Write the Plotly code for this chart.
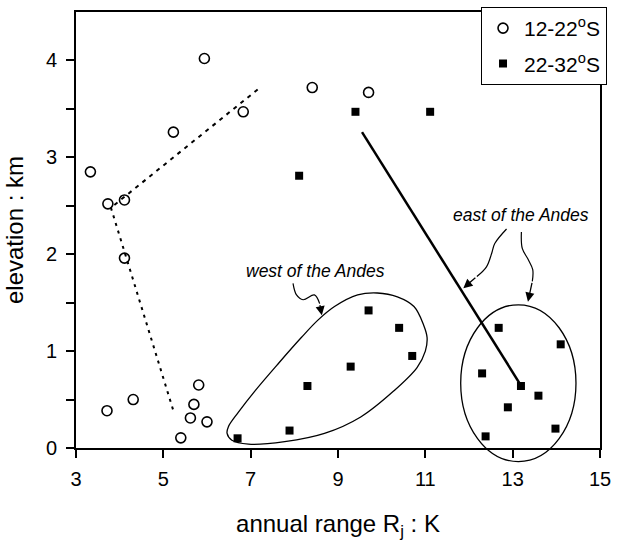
import plotly.graph_objects as go

# Stations 12-22°S: annual temperature range (K) and elevation (km)
north_range = [3.33, 3.73, 4.11, 4.11, 5.23, 5.94, 6.83, 8.41, 9.70,
               3.71, 4.31, 5.81, 5.70, 5.62, 6.00, 5.40]
north_elev = [2.85, 2.52, 2.56, 1.96, 3.26, 4.02, 3.47, 3.72, 3.67,
              0.385, 0.50, 0.65, 0.45, 0.31, 0.27, 0.105]

# Stations 22-32°S
south_range = [9.40, 11.11, 8.11, 6.70, 7.89, 8.30, 9.29, 9.70, 10.40, 10.70,
               12.68, 14.10, 12.30, 13.19, 13.59, 12.89, 13.98, 12.38]
south_elev = [3.47, 3.47, 2.81, 0.10, 0.18, 0.64, 0.84, 1.42, 1.24, 0.95,
              1.24, 1.07, 0.77, 0.64, 0.54, 0.42, 0.20, 0.12]

# Trend lines
dash_upper_x = [7.16, 3.80]
dash_upper_y = [3.70, 2.48]
dash_lower_x = [3.80, 5.24]
dash_lower_y = [2.48, 0.37]
solid_x = [9.55, 13.17]
solid_y = [3.26, 0.66]

# Outline around the western stations
west_x = [7.78, 8.69, 9.52, 10.28, 10.81, 11.00, 11.04, 10.96, 10.74, 10.36, 9.90,
          9.45, 8.92, 8.54, 8.16, 7.63, 7.10, 6.72, 6.49, 6.46, 6.57, 6.95, 7.78]
west_y = [0.065, 0.15, 0.32, 0.59, 0.83, 1.00, 1.14, 1.27, 1.46, 1.56, 1.60,
          1.58, 1.46, 1.32, 1.14, 0.87, 0.59, 0.37, 0.22, 0.15, 0.08, 0.04, 0.065]

# Ellipse around the eastern stations (x range, y range)
east_x = [11.81, 14.45]
east_y = [-0.14, 1.478]

# Curly pointer paths
west_ptr_x = [7.97, 8.05, 8.20, 8.46, 8.58]
west_ptr_y = [1.70, 1.58, 1.53, 1.58, 1.49]
west_tip = (8.63, 1.37)
eastA_ptr_x = [12.86, 12.59, 12.52, 12.40, 12.18]
eastA_ptr_y = [2.26, 2.11, 2.01, 1.87, 1.77]
eastA_tip = (11.87, 1.65)
eastB_ptr_x = [13.20, 13.22, 13.35, 13.46, 13.45]
eastB_ptr_y = [2.23, 2.06, 1.95, 1.84, 1.72]
eastB_tip = (13.35, 1.51)

X_RANGE = [3, 15]
Y_RANGE = [0, 4.5]
x_ticks = [3, 5, 7, 9, 11, 13, 15]
y_ticks = [0, 0.5, 1, 1.5, 2, 2.5, 3, 3.5, 4]
y_text = ["0", "", "1", "", "2", "", "3", "", "4"]

FONT = "Arial, Liberation Sans, sans-serif"
FS = 20

fig = go.Figure()

fig.add_trace(go.Scatter(x=dash_upper_x, y=dash_upper_y, mode="lines",
                         line=dict(color="black", width=2, dash="4px,5px"),
                         showlegend=False, hoverinfo="skip"))
fig.add_trace(go.Scatter(x=dash_lower_x, y=dash_lower_y, mode="lines",
                         line=dict(color="black", width=2, dash="3px,5px"),
                         showlegend=False, hoverinfo="skip"))
fig.add_trace(go.Scatter(x=solid_x, y=solid_y, mode="lines",
                         line=dict(color="black", width=2.5),
                         showlegend=False, hoverinfo="skip"))
fig.add_trace(go.Scatter(x=west_x, y=west_y, mode="lines",
                         line=dict(color="black", width=1.3, shape="spline", smoothing=1),
                         showlegend=False, hoverinfo="skip"))
for px, py in [(west_ptr_x, west_ptr_y), (eastA_ptr_x, eastA_ptr_y), (eastB_ptr_x, eastB_ptr_y)]:
    fig.add_trace(go.Scatter(x=px, y=py, mode="lines",
                             line=dict(color="black", width=1.2, shape="spline", smoothing=1),
                             showlegend=False, hoverinfo="skip"))

fig.add_trace(go.Scatter(x=north_range, y=north_elev, mode="markers",
                         name="12-22<sup>o</sup>S", legendgroup="north",
                         marker=dict(symbol="circle-open", size=10, color="black",
                                     line=dict(width=1.6, color="black"))))
fig.add_trace(go.Scatter(x=south_range, y=south_elev, mode="markers",
                         name="22-32<sup>o</sup>S", legendgroup="south",
                         marker=dict(symbol="square", size=8, color="black")))

# eastern ellipse: x in data units, y converted to the paper fraction of the y axis
span = Y_RANGE[1] - Y_RANGE[0]
fig.add_shape(type="circle", xref="x", yref="paper",
              x0=east_x[0], x1=east_x[1],
              y0=(east_y[0] - Y_RANGE[0]) / span, y1=(east_y[1] - Y_RANGE[0]) / span,
              line=dict(color="black", width=1.3))

# arrow heads at the end of each curly pointer
for px, py, tip in [(west_ptr_x, west_ptr_y, west_tip),
                    (eastA_ptr_x, eastA_ptr_y, eastA_tip),
                    (eastB_ptr_x, eastB_ptr_y, eastB_tip)]:
    fig.add_annotation(x=tip[0], y=tip[1], ax=px[-1], ay=py[-1],
                       axref="x", ayref="y", xref="x", yref="y",
                       text="", showarrow=True, arrowhead=2, arrowsize=1.4,
                       arrowwidth=1.3, arrowcolor="black")

fig.add_annotation(x=8.49, y=1.83, text="<i>west of the Andes</i>", showarrow=False,
                   font=dict(family=FONT, size=17.5, color="black"))
fig.add_annotation(x=13.20, y=2.40, text="<i>east of the Andes</i>", showarrow=False,
                   font=dict(family=FONT, size=17.5, color="black"))

fig.update_layout(
    width=618, height=541,
    margin=dict(l=76, r=14, t=7, b=93),
    paper_bgcolor="white", plot_bgcolor="white",
    font=dict(family=FONT, size=FS, color="black"),
    showlegend=True,
    legend=dict(x=1.013, xanchor="right", y=1.012, yanchor="top",
                bgcolor="white", bordercolor="black", borderwidth=1.2,
                font=dict(family=FONT, size=21, color="black"),
                itemwidth=32, tracegroupgap=5, traceorder="grouped"),
    xaxis=dict(range=X_RANGE, tickvals=x_ticks, ticks="outside", ticklen=8,
               tickwidth=1.5, tickcolor="black", showline=True, linewidth=2,
               linecolor="black", mirror=True, showgrid=False, zeroline=False,
               ticklabelstandoff=4,
               title=dict(text="annual range R<sub>j</sub> : K", standoff=27),
               tickfont=dict(size=FS)),
    yaxis=dict(range=Y_RANGE, tickvals=y_ticks, ticktext=y_text, ticks="outside",
               ticklen=8, tickwidth=1.5, tickcolor="black", showline=True,
               linewidth=2, linecolor="black", mirror=True, showgrid=False,
               zeroline=False, ticklabelstandoff=5,
               title=dict(text="elevation : km", standoff=15),
               tickfont=dict(size=FS)),
)

fig.write_html("out.html")
